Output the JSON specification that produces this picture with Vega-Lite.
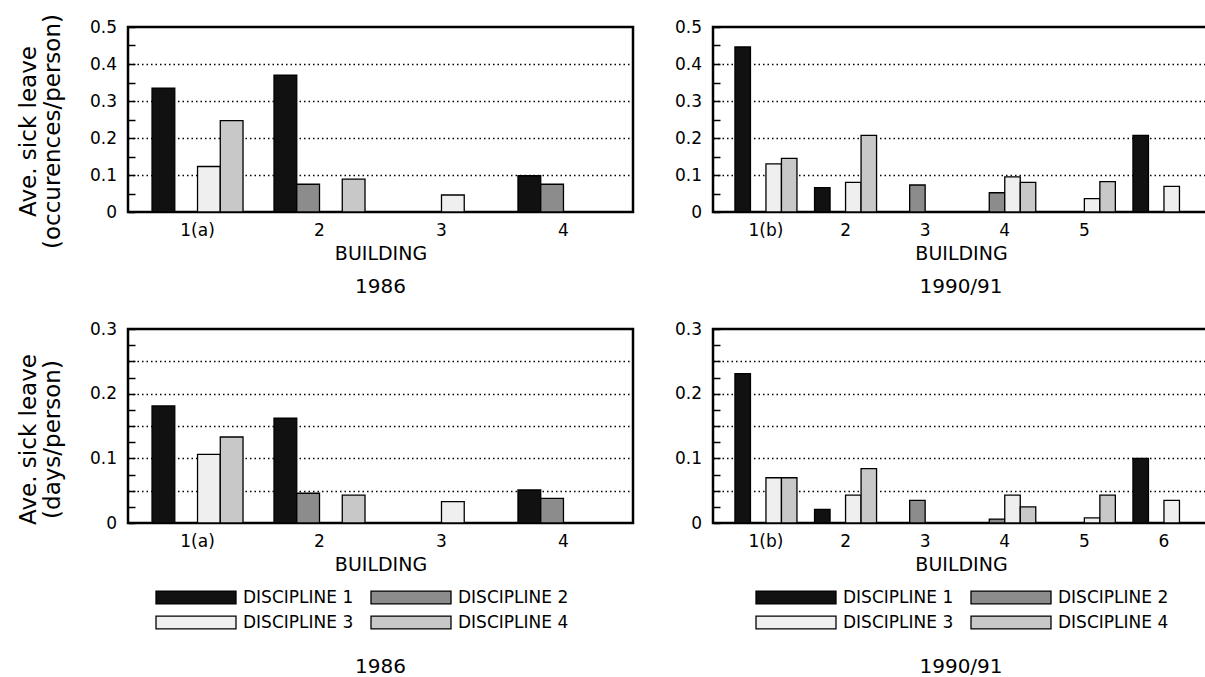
{
  "$schema": "https://vega.github.io/schema/vega-lite/v6.json",
  "background": "white",
  "padding": {"left": 15, "top": 12, "right": 0, "bottom": 0},
  "config": {
    "font": "DejaVu Sans",
    "view": {"stroke": "black", "strokeWidth": 2.5},
    "bar": {"stroke": "black", "strokeWidth": 1.3},
    "axis": {"labelColor": "black", "titleColor": "black", "titleFontWeight": "normal", "labelFontSize": 17, "titleFontSize": 19, "domain": false},
    "title": {"fontWeight": "normal", "fontSize": 20, "color": "black"},
    "legend": {"labelColor": "black"}
  },
  "datasets": {
    "occ1986": [
      {"building": "1(a)", "discipline": "DISCIPLINE 1", "value": 0.335},
      {"building": "1(a)", "discipline": "DISCIPLINE 3", "value": 0.123},
      {"building": "1(a)", "discipline": "DISCIPLINE 4", "value": 0.247},
      {"building": "2", "discipline": "DISCIPLINE 1", "value": 0.37},
      {"building": "2", "discipline": "DISCIPLINE 2", "value": 0.075},
      {"building": "2", "discipline": "DISCIPLINE 4", "value": 0.089},
      {"building": "3", "discipline": "DISCIPLINE 3", "value": 0.046},
      {"building": "4", "discipline": "DISCIPLINE 1", "value": 0.098},
      {"building": "4", "discipline": "DISCIPLINE 2", "value": 0.075}
    ],
    "occ1990": [
      {"building": "1(b)", "discipline": "DISCIPLINE 1", "value": 0.446},
      {"building": "1(b)", "discipline": "DISCIPLINE 3", "value": 0.13},
      {"building": "1(b)", "discipline": "DISCIPLINE 4", "value": 0.145},
      {"building": "2", "discipline": "DISCIPLINE 1", "value": 0.066},
      {"building": "2", "discipline": "DISCIPLINE 3", "value": 0.08},
      {"building": "2", "discipline": "DISCIPLINE 4", "value": 0.207},
      {"building": "3", "discipline": "DISCIPLINE 2", "value": 0.073},
      {"building": "4", "discipline": "DISCIPLINE 2", "value": 0.052},
      {"building": "4", "discipline": "DISCIPLINE 3", "value": 0.095},
      {"building": "4", "discipline": "DISCIPLINE 4", "value": 0.08},
      {"building": "5", "discipline": "DISCIPLINE 3", "value": 0.036},
      {"building": "5", "discipline": "DISCIPLINE 4", "value": 0.082},
      {"building": "6", "discipline": "DISCIPLINE 1", "value": 0.207},
      {"building": "6", "discipline": "DISCIPLINE 3", "value": 0.069}
    ],
    "days1986": [
      {"building": "1(a)", "discipline": "DISCIPLINE 1", "value": 0.181},
      {"building": "1(a)", "discipline": "DISCIPLINE 3", "value": 0.106},
      {"building": "1(a)", "discipline": "DISCIPLINE 4", "value": 0.133},
      {"building": "2", "discipline": "DISCIPLINE 1", "value": 0.162},
      {"building": "2", "discipline": "DISCIPLINE 2", "value": 0.046},
      {"building": "2", "discipline": "DISCIPLINE 4", "value": 0.043},
      {"building": "3", "discipline": "DISCIPLINE 3", "value": 0.033},
      {"building": "4", "discipline": "DISCIPLINE 1", "value": 0.051},
      {"building": "4", "discipline": "DISCIPLINE 2", "value": 0.038}
    ],
    "days1990": [
      {"building": "1(b)", "discipline": "DISCIPLINE 1", "value": 0.231},
      {"building": "1(b)", "discipline": "DISCIPLINE 3", "value": 0.07},
      {"building": "1(b)", "discipline": "DISCIPLINE 4", "value": 0.07},
      {"building": "2", "discipline": "DISCIPLINE 1", "value": 0.021},
      {"building": "2", "discipline": "DISCIPLINE 3", "value": 0.043},
      {"building": "2", "discipline": "DISCIPLINE 4", "value": 0.084},
      {"building": "3", "discipline": "DISCIPLINE 2", "value": 0.035},
      {"building": "4", "discipline": "DISCIPLINE 2", "value": 0.006},
      {"building": "4", "discipline": "DISCIPLINE 3", "value": 0.043},
      {"building": "4", "discipline": "DISCIPLINE 4", "value": 0.025},
      {"building": "5", "discipline": "DISCIPLINE 3", "value": 0.008},
      {"building": "5", "discipline": "DISCIPLINE 4", "value": 0.043},
      {"building": "6", "discipline": "DISCIPLINE 1", "value": 0.1},
      {"building": "6", "discipline": "DISCIPLINE 3", "value": 0.035}
    ]
  },
  "spacing": 19,
  "resolve": {"scale": {"x": "independent", "y": "independent", "fill": "independent", "xOffset": "independent"}, "legend": {"fill": "independent"}},
  "vconcat": [
    {
      "spacing": 34,
      "resolve": {"scale": {"x": "independent", "y": "independent", "fill": "independent", "xOffset": "independent"}, "legend": {"fill": "independent"}},
      "hconcat": [
        {
          "width": 505, "height": 185,
          "data": {"name": "occ1986"},
          "mark": {"type": "bar"},
          "title": {"text": "1986", "orient": "bottom", "anchor": "middle", "frame": "group", "offset": 14},
          "encoding": {
            "x": {"field": "building", "type": "nominal", "sort": null,
              "scale": {"domain": ["1(a)", "2", "3", "4"], "paddingInner": 0.254, "paddingOuter": 0.197},
              "axis": {"title": "BUILDING", "labelAngle": 0, "ticks": false, "labelPadding": 10, "titlePadding": 6}},
            "xOffset": {"field": "discipline", "type": "nominal", "scale": {"domain": ["DISCIPLINE 1", "DISCIPLINE 2", "DISCIPLINE 3", "DISCIPLINE 4"], "paddingInner": 0, "paddingOuter": 0}},
            "y": {"field": "value", "type": "quantitative",
              "scale": {"domain": [0, 0.5], "nice": false, "zero": true},
              "axis": {"title": ["Ave. sick leave", "(occurences/person)"], "titleFontSize": 23, "titleLineHeight": 24, "titlePadding": 21, "titleY": 104,
                "values": [0, 0.05, 0.1, 0.15, 0.2, 0.25, 0.3, 0.35, 0.4, 0.45, 0.5],
                "labelExpr": "datum.value == 0 ? '0' : (abs(datum.value*10 - round(datum.value*10)) < 0.001 ? format(datum.value, '.1f') : '')",
                "tickSize": -7, "tickWidth": 1.5, "tickColor": "black", "labelPadding": 18.5, "minExtent": 43, "maxExtent": 43,
                "grid": true, "gridColor": "black", "gridWidth": 1.5, "gridDash": [1.5, 3],
                "gridOpacity": {"condition": {"test": "abs(datum.value*10 - round(datum.value*10)) < 0.001 && datum.value > 0.001 && datum.value < 0.499", "value": 1}, "value": 0}}},
            "fill": {"field": "discipline", "type": "nominal",
              "scale": {"domain": ["DISCIPLINE 1", "DISCIPLINE 2", "DISCIPLINE 3", "DISCIPLINE 4"], "range": ["#111111", "#8c8c8c", "#efefef", "#c8c8c8"]},
              "legend": null}
          }
        },
        {
          "width": 496, "height": 185,
          "data": {"name": "occ1990"},
          "mark": {"type": "bar"},
          "title": {"text": "1990/91", "orient": "bottom", "anchor": "middle", "frame": "group", "offset": 14},
          "encoding": {
            "x": {"field": "building", "type": "nominal", "sort": null,
              "scale": {"domain": ["1(b)", "2", "3", "4", "5", "6"], "paddingInner": 0.221, "paddingOuter": 0.226, "align": 0.61},
              "axis": {"title": "BUILDING", "labelAngle": 0, "ticks": false, "labelPadding": 10, "titlePadding": 6,
                "labelExpr": "datum.label == '6' ? '' : datum.label"}},
            "xOffset": {"field": "discipline", "type": "nominal", "scale": {"domain": ["DISCIPLINE 1", "DISCIPLINE 2", "DISCIPLINE 3", "DISCIPLINE 4"], "paddingInner": 0, "paddingOuter": 0}},
            "y": {"field": "value", "type": "quantitative",
              "scale": {"domain": [0, 0.5], "nice": false, "zero": true},
              "axis": {"title": null,
                "values": [0, 0.05, 0.1, 0.15, 0.2, 0.25, 0.3, 0.35, 0.4, 0.45, 0.5],
                "labelExpr": "datum.value == 0 ? '0' : (abs(datum.value*10 - round(datum.value*10)) < 0.001 ? format(datum.value, '.1f') : '')",
                "tickSize": -7, "tickWidth": 1.5, "tickColor": "black", "labelPadding": 18.5, "minExtent": 42, "maxExtent": 42,
                "grid": true, "gridColor": "black", "gridWidth": 1.5, "gridDash": [1.5, 3],
                "gridOpacity": {"condition": {"test": "abs(datum.value*10 - round(datum.value*10)) < 0.001 && datum.value > 0.001 && datum.value < 0.499", "value": 1}, "value": 0}}},
            "fill": {"field": "discipline", "type": "nominal",
              "scale": {"domain": ["DISCIPLINE 1", "DISCIPLINE 2", "DISCIPLINE 3", "DISCIPLINE 4"], "range": ["#111111", "#8c8c8c", "#efefef", "#c8c8c8"]},
              "legend": null}
          }
        }
      ]
    },
    {
      "spacing": 34,
      "resolve": {"scale": {"x": "independent", "y": "independent", "fill": "independent", "xOffset": "independent"}, "legend": {"fill": "independent"}},
      "hconcat": [
        {
          "width": 505, "height": 194,
          "data": {"name": "days1986"},
          "mark": {"type": "bar"},
          "title": {"text": "1986", "orient": "bottom", "anchor": "middle", "frame": "group", "offset": 25},
          "encoding": {
            "x": {"field": "building", "type": "nominal", "sort": null,
              "scale": {"domain": ["1(a)", "2", "3", "4"], "paddingInner": 0.254, "paddingOuter": 0.197},
              "axis": {"title": "BUILDING", "labelAngle": 0, "ticks": false, "labelPadding": 10, "titlePadding": 6}},
            "xOffset": {"field": "discipline", "type": "nominal", "scale": {"domain": ["DISCIPLINE 1", "DISCIPLINE 2", "DISCIPLINE 3", "DISCIPLINE 4"], "paddingInner": 0, "paddingOuter": 0}},
            "y": {"field": "value", "type": "quantitative",
              "scale": {"domain": [0, 0.3], "nice": false, "zero": true},
              "axis": {"title": ["Ave. sick leave", "(days/person)"], "titleFontSize": 23, "titleLineHeight": 24, "titlePadding": 21, "titleY": 110,
                "values": [0, 0.025, 0.05, 0.075, 0.1, 0.125, 0.15, 0.175, 0.2, 0.225, 0.25, 0.275, 0.3],
                "labelExpr": "datum.value == 0 ? '0' : (abs(datum.value*10 - round(datum.value*10)) < 0.001 ? format(datum.value, '.1f') : '')",
                "tickSize": -7, "tickWidth": 1.5, "tickColor": "black", "labelPadding": 18.5, "minExtent": 43, "maxExtent": 43,
                "grid": true, "gridColor": "black", "gridWidth": 1.5, "gridDash": [1.5, 3],
                "gridOpacity": {"condition": {"test": "abs(datum.value*20 - round(datum.value*20)) < 0.001 && datum.value > 0.001 && datum.value < 0.299", "value": 1}, "value": 0}}},
            "fill": {"field": "discipline", "type": "nominal",
              "scale": {"domain": ["DISCIPLINE 1", "DISCIPLINE 2", "DISCIPLINE 3", "DISCIPLINE 4"], "range": ["#111111", "#8c8c8c", "#efefef", "#c8c8c8"]},
              "legend": {"orient": "none", "legendX": 27, "legendY": 259.5, "columns": 2, "direction": "horizontal", "title": null,
                "symbolType": "M-1,-0.16H1V0.16H-1Z", "symbolSize": 6400, "clipHeight": 18, "symbolStrokeColor": "black", "symbolStrokeWidth": 1.5,
                "labelFontSize": 17, "labelOffset": 6, "columnPadding": 16, "rowPadding": 7, "padding": 0}}
          }
        },
        {
          "width": 496, "height": 194,
          "data": {"name": "days1990"},
          "mark": {"type": "bar"},
          "title": {"text": "1990/91", "orient": "bottom", "anchor": "middle", "frame": "group", "offset": 25},
          "encoding": {
            "x": {"field": "building", "type": "nominal", "sort": null,
              "scale": {"domain": ["1(b)", "2", "3", "4", "5", "6"], "paddingInner": 0.221, "paddingOuter": 0.226, "align": 0.61},
              "axis": {"title": "BUILDING", "labelAngle": 0, "ticks": false, "labelPadding": 10, "titlePadding": 6}},
            "xOffset": {"field": "discipline", "type": "nominal", "scale": {"domain": ["DISCIPLINE 1", "DISCIPLINE 2", "DISCIPLINE 3", "DISCIPLINE 4"], "paddingInner": 0, "paddingOuter": 0}},
            "y": {"field": "value", "type": "quantitative",
              "scale": {"domain": [0, 0.3], "nice": false, "zero": true},
              "axis": {"title": null,
                "values": [0, 0.025, 0.05, 0.075, 0.1, 0.125, 0.15, 0.175, 0.2, 0.225, 0.25, 0.275, 0.3],
                "labelExpr": "datum.value == 0 ? '0' : (abs(datum.value*10 - round(datum.value*10)) < 0.001 ? format(datum.value, '.1f') : '')",
                "tickSize": -7, "tickWidth": 1.5, "tickColor": "black", "labelPadding": 18.5, "minExtent": 42, "maxExtent": 42,
                "grid": true, "gridColor": "black", "gridWidth": 1.5, "gridDash": [1.5, 3],
                "gridOpacity": {"condition": {"test": "abs(datum.value*20 - round(datum.value*20)) < 0.001 && datum.value > 0.001 && datum.value < 0.299", "value": 1}, "value": 0}}},
            "fill": {"field": "discipline", "type": "nominal",
              "scale": {"domain": ["DISCIPLINE 1", "DISCIPLINE 2", "DISCIPLINE 3", "DISCIPLINE 4"], "range": ["#111111", "#8c8c8c", "#efefef", "#c8c8c8"]},
              "legend": {"orient": "none", "legendX": 42, "legendY": 259.5, "columns": 2, "direction": "horizontal", "title": null,
                "symbolType": "M-1,-0.16H1V0.16H-1Z", "symbolSize": 6400, "clipHeight": 18, "symbolStrokeColor": "black", "symbolStrokeWidth": 1.5,
                "labelFontSize": 17, "labelOffset": 6, "columnPadding": 16, "rowPadding": 7, "padding": 0}}
          }
        }
      ]
    }
  ]
}
